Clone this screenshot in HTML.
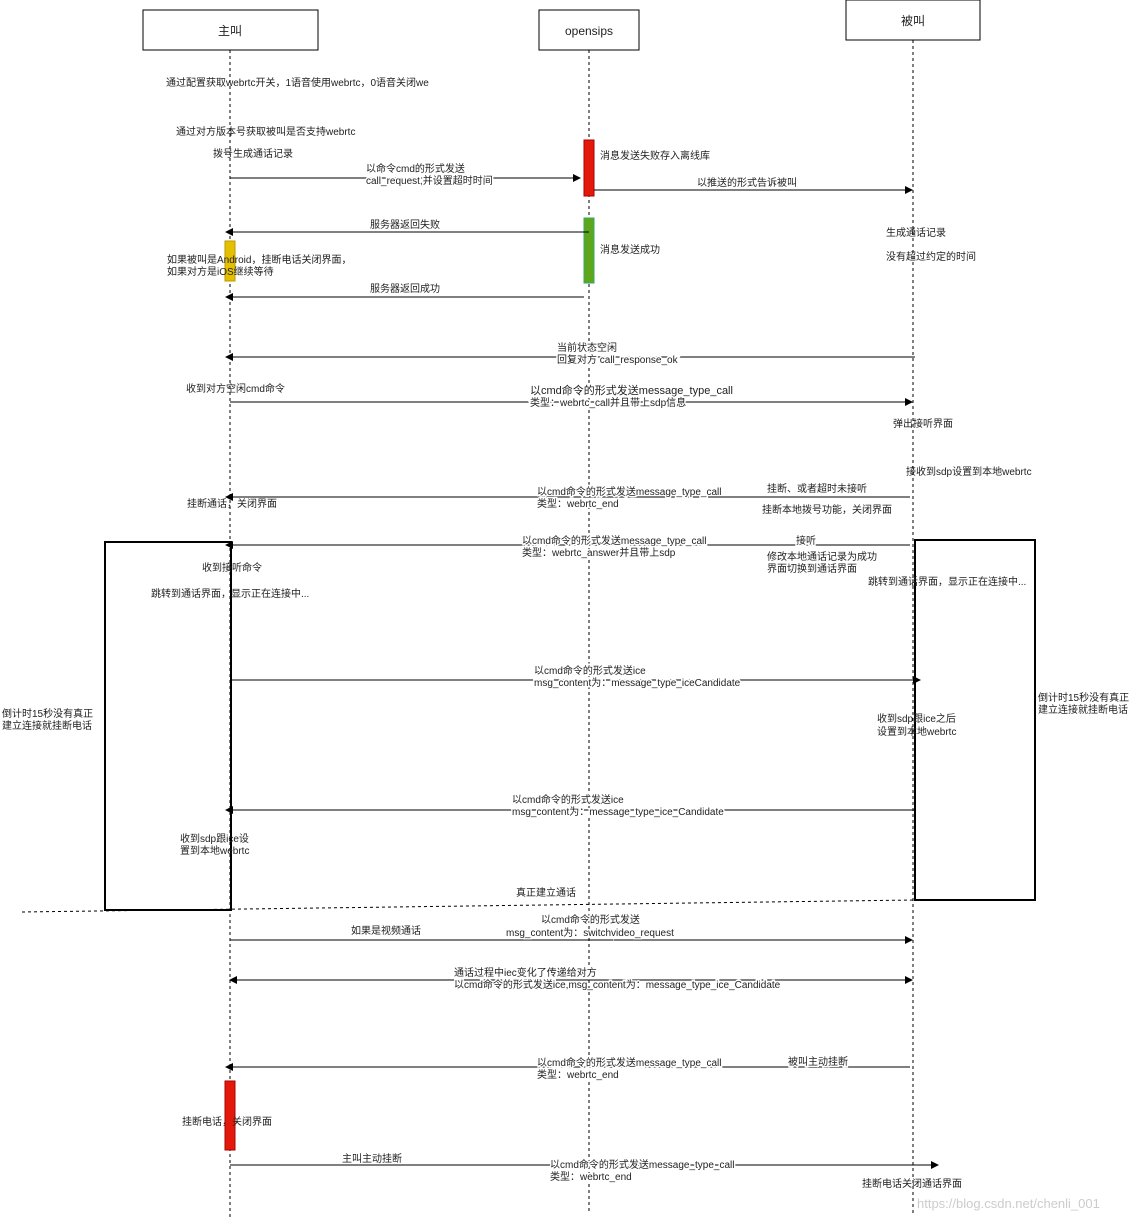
<!DOCTYPE html>
<html><head><meta charset="utf-8"><style>
html,body{margin:0;padding:0;background:#fff;}
svg text{font-family:"Liberation Sans","Noto Sans CJK SC",sans-serif;font-size:10px;fill:#222;}
.l{stroke:#000;stroke-width:1;fill:none}
.d{stroke:#000;stroke-width:1;stroke-dasharray:3,3;fill:none}
.w{stroke:#fff;stroke-width:3px;paint-order:stroke;}
</style></head><body>
<svg width="1147" height="1221" viewBox="0 0 1147 1221" xmlns="http://www.w3.org/2000/svg">
<defs><marker id="a" markerWidth="8" markerHeight="8" refX="7" refY="4" orient="auto-start-reverse" markerUnits="userSpaceOnUse"><path d="M0,0 L8,4 L0,8 z" fill="#000"/></marker></defs>
<!-- lifelines -->
<line class="d" x1="230" y1="50" x2="230" y2="1218"/>
<line class="d" x1="589" y1="50" x2="589" y2="1212"/>
<line class="d" x1="913" y1="40" x2="913" y2="1215"/>
<!-- headers -->
<rect x="143" y="10" width="175" height="40" fill="#fff" stroke="#000"/>
<text x="230" y="35" text-anchor="middle" style="font-size:12px">主叫</text>
<rect x="539" y="10" width="100" height="40" fill="#fff" stroke="#000"/>
<text x="589" y="35" text-anchor="middle" style="font-size:12px">opensips</text>
<rect x="846" y="0" width="134" height="40" fill="#fff" stroke="#000"/>
<text x="913" y="25" text-anchor="middle" style="font-size:12px">被叫</text>

<text x="166" y="86">通过配置获取webrtc开关，1语音使用webrtc，0语音关闭we</text>
<text x="176" y="135">通过对方版本号获取被叫是否支持webrtc</text>
<text x="213" y="157">拨号生成通话记录</text>

<rect x="584" y="140" width="10" height="56" fill="#e31a0b" stroke="#a00"/>
<rect x="584" y="218" width="10" height="65" fill="#5ea71c" stroke="#3a6"/>
<rect x="225" y="241" width="10" height="40" fill="#e5c000" stroke="#b90"/>
<text x="600" y="159">消息发送失败存入离线库</text>
<text x="600" y="253">消息发送成功</text>

<line class="l" x1="230" y1="178" x2="580" y2="178" marker-end="url(#a)"/>
<text x="366" y="172" class="w">以命令cmd的形式发送</text>
<text x="366" y="184" class="w">call_request,并设置超时时间</text>
<line class="l" x1="594" y1="190" x2="912" y2="190" marker-end="url(#a)"/>
<text x="697" y="186">以推送的形式告诉被叫</text>
<line class="l" x1="589" y1="232" x2="226" y2="232" marker-end="url(#a)"/>
<text x="370" y="228">服务器返回失败</text>
<text x="167" y="263">如果被叫是Android，挂断电话关闭界面，</text>
<text x="167" y="275">如果对方是iOS继续等待</text>
<line class="l" x1="584" y1="297" x2="226" y2="297" marker-end="url(#a)"/>
<text x="370" y="292">服务器返回成功</text>
<text x="886" y="236">生成通话记录</text>
<text x="886" y="260">没有超过约定的时间</text>

<line class="l" x1="915" y1="357" x2="226" y2="357" marker-end="url(#a)"/>
<text x="557" y="351" class="w">当前状态空闲</text>
<text x="557" y="363" class="w">回复对方 call_response_ok</text>
<text x="186" y="392">收到对方空闲cmd命令</text>
<line class="l" x1="230" y1="402" x2="912" y2="402" marker-end="url(#a)"/>
<text x="530" y="394" class="w" style="font-size:11px">以cmd命令的形式发送message_type_call</text>
<text x="530" y="406" class="w">类型：webrtc_call并且带上sdp信息</text>
<text x="893" y="427">弹出接听界面</text>
<text x="906" y="475">接收到sdp设置到本地webrtc</text>

<line class="l" x1="910" y1="497" x2="226" y2="497" marker-end="url(#a)"/>
<text x="537" y="495" class="w">以cmd命令的形式发送message_type_call</text>
<text x="537" y="507" class="w">类型：webrtc_end</text>
<text x="767" y="492" class="w">挂断、或者超时未接听</text>
<text x="762" y="513">挂断本地拨号功能，关闭界面</text>
<text x="187" y="507">挂断通话，关闭界面</text>

<rect x="105" y="542" width="126" height="368" fill="none" stroke="#000" stroke-width="2"/>
<rect x="915" y="540" width="120" height="360" fill="none" stroke="#000" stroke-width="2"/>
<line class="l" x1="910" y1="545" x2="226" y2="545" marker-end="url(#a)"/>
<text x="522" y="544" class="w">以cmd命令的形式发送message_type_call</text>
<text x="522" y="556" class="w">类型：webrtc_answer并且带上sdp</text>
<text x="796" y="544" class="w">接听</text>
<text x="767" y="560">修改本地通话记录为成功</text>
<text x="767" y="572">界面切换到通话界面</text>
<text x="868" y="585">跳转到通话界面，显示正在连接中...</text>
<text x="202" y="571">收到接听命令</text>
<text x="151" y="597">跳转到通话界面，显示正在连接中...</text>

<line class="l" x1="230" y1="680" x2="920" y2="680" marker-end="url(#a)"/>
<text x="534" y="674" class="w">以cmd命令的形式发送ice</text>
<text x="534" y="686" class="w">msg_content为：message_type_iceCandidate</text>
<text x="1038" y="701">倒计时15秒没有真正</text>
<text x="1038" y="713">建立连接就挂断电话</text>
<text x="2" y="717">倒计时15秒没有真正</text>
<text x="2" y="729">建立连接就挂断电话</text>
<text x="877" y="722">收到sdp跟ice之后</text>
<text x="877" y="735">设置到本地webrtc</text>

<line class="l" x1="915" y1="810" x2="226" y2="810" marker-end="url(#a)"/>
<text x="512" y="803" class="w">以cmd命令的形式发送ice</text>
<text x="512" y="815" class="w">msg_content为：message_type_ice_Candidate</text>
<text x="180" y="842">收到sdp跟ice设</text>
<text x="180" y="854">置到本地webrtc</text>
<text x="516" y="896">真正建立通话</text>
<line class="d" x1="22" y1="912" x2="915" y2="900"/>

<line class="l" x1="230" y1="940" x2="912" y2="940" marker-end="url(#a)"/>
<text x="541" y="923" class="w">以cmd命令的形式发送</text>
<text x="506" y="936" class="w">msg_content为：switchvideo_request</text>
<text x="351" y="934">如果是视频通话</text>

<line class="l" x1="230" y1="980" x2="912" y2="980" marker-start="url(#a)" marker-end="url(#a)"/>
<text x="454" y="976" class="w">通话过程中iec变化了传递给对方</text>
<text x="454" y="988" class="w">以cmd命令的形式发送ice,msg_content为：message_type_ice_Candidate</text>

<line class="l" x1="910" y1="1067" x2="226" y2="1067" marker-end="url(#a)"/>
<text x="537" y="1066" class="w">以cmd命令的形式发送message_type_call</text>
<text x="537" y="1078" class="w">类型：webrtc_end</text>
<text x="788" y="1065" class="w">被叫主动挂断</text>
<rect x="225" y="1081" width="10" height="69" fill="#e31a0b" stroke="#a00"/>
<text x="182" y="1125">挂断电话，关闭界面</text>

<line class="l" x1="230" y1="1165" x2="938" y2="1165" marker-end="url(#a)"/>
<text x="342" y="1162">主叫主动挂断</text>
<text x="550" y="1168" class="w">以cmd命令的形式发送message_type_call</text>
<text x="550" y="1180" class="w">类型：webrtc_end</text>
<text x="862" y="1187">挂断电话关闭通话界面</text>
<text x="917" y="1208" style="font-size:13px;fill:#ccc">https://blog.csdn.net/chenli_001</text>
</svg>
</body></html>
